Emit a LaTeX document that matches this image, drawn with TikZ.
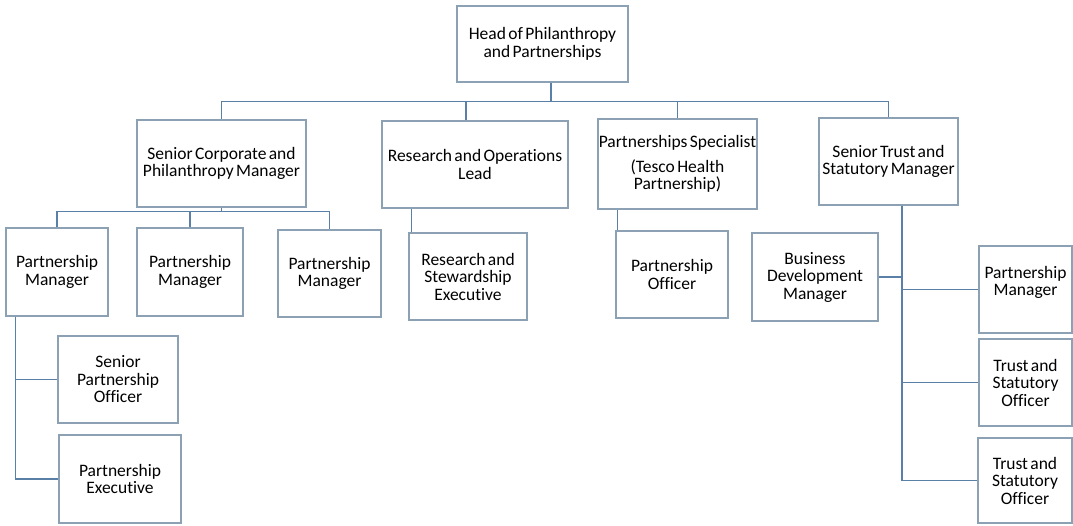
\documentclass[tikz,border=0pt]{standalone}
\usepackage{fontspec}
\setmainfont[WordSpace=0.6, Ligatures=NoCommon]{Carlito}
\definecolor{boxline}{HTML}{8CA2B4}
\definecolor{linkline}{HTML}{5A80A8}
\tikzset{
  post/.style={draw=boxline, line width=1.2pt, fill=white, inner sep=0pt, align=center,
    font=\fontsize{17.5}{17.5}\selectfont},
  link/.style={draw=linkline, line width=1.1pt}
}
\begin{document}
\begin{tikzpicture}[x=1pt, y=-1pt]
        \useasboundingbox (0,0) rectangle (1073,525);

        % top
        \node[post, minimum width=171, minimum height=76] (head) at (542.5, 44) {Head of Philanthropy\\and Partnerships};

        % second row
        \node[post, minimum width=169, minimum height=87] (scm) at (221.5, 163.5) {Senior Corporate and\\Philanthropy Manager};
        \node[post, minimum width=186, minimum height=87] (rol) at (475, 164.5) {Research and Operations\\Lead};
        \node[post, minimum width=159, minimum height=90] (psp) at (677.5, 164) {Partnerships Specialist\\[7pt](Tesco Health\\Partnership)};
        \node[post, minimum width=139, minimum height=87] (stm) at (888.5, 161.5) {Senior Trust and\\Statutory Manager};

        \draw[link] ([xshift=8.5]head.south) -- ++(0,19) coordinate (bus);
        \draw[link] (scm.north) |- (bus) -| (stm.north);
        \draw[link] ([xshift=-9]rol.north) -- ([xshift=-9]rol.north |- bus);
        \draw[link] (psp.north) -- (psp.north |- bus);

        % corporate team
        \node[post, minimum width=102, minimum height=88] (pm1) at (57, 272) {Partnership\\Manager};
        \node[post, minimum width=106, minimum height=88] (pm2) at (190, 272) {Partnership\\Manager};
        \node[post, minimum width=103, minimum height=87] (pm3) at (329.5, 273.5) {Partnership\\Manager};
        \node[post, minimum width=120, minimum height=87] (spo) at (118, 379.5) {Senior\\Partnership\\Officer};
        \node[post, minimum width=122, minimum height=88] (pex) at (120, 479) {Partnership\\Executive};

        \draw[link] (scm.south) -- ++(0,4) coordinate (cbus);
        \draw[link] (pm1.north) |- (cbus) -| (pm3.north);
        \draw[link] (pm2.north) -- (pm2.north |- cbus);
        \draw[link] ([xshift=10]pm1.south west) |- (spo.west);
        \draw[link] ([xshift=10]pm1.south west) |- (pex.west);

        % research and specialist
        \node[post, minimum width=118, minimum height=87] (rse) at (468, 276.5) {Research and\\Stewardship\\Executive};
        \node[post, minimum width=112, minimum height=87] (po) at (672, 274.5) {Partnership\\Officer};

        \draw[link] ([xshift=3]rse.north west) -- ([xshift=3]rse.north west |- rol.south);
        \draw[link] ([xshift=2]po.north west) -- ([xshift=2]po.north west |- psp.south);

        % trust team
        \node[post, minimum width=126, minimum height=88] (bdm) at (815, 277) {Business\\Development\\Manager};
        \node[post, minimum width=93, minimum height=87] (pmr) at (1025.5, 289.5) {Partnership\\Manager\\\mbox{}};
        \node[post, minimum width=93, minimum height=87] (tso1) at (1025.5, 382.5) {Trust and\\Statutory\\Officer};
        \node[post, minimum width=94, minimum height=85] (tso2) at (1025, 480.5) {Trust and\\Statutory\\Officer};

        \draw[link] ([xshift=13.5]stm.south) coordinate (spine) |- (tso2.west);
        \draw[link] (bdm.east) -- (bdm.east -| spine);
        \draw[link] (pmr.west) -- (pmr.west -| spine);
        \draw[link] (tso1.west) -- (tso1.west -| spine);
    \end{tikzpicture}
\end{document}
